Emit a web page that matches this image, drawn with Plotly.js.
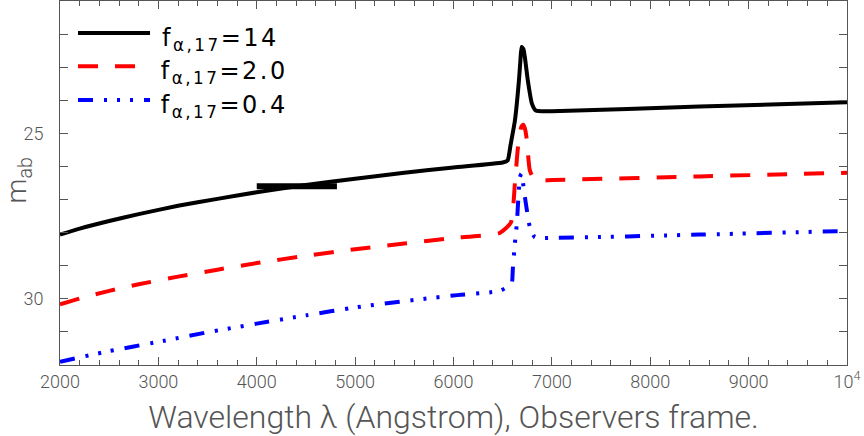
<!DOCTYPE html>
<html>
<head>
<meta charset="utf-8">
<script src="https://cdn.plot.ly/plotly-3.0.1.min.js"></script>
<style>
  body { margin: 0; background: #fff; }
  #viz { width: 864px; height: 436px; }
  #viz .legtext .annotation-text { letter-spacing: 2.5px; }
</style>
</head>
<body>
<div id="viz"></div>
<script>
// model spectra, magnitudes
var lamHigh = [2000, 2200, 2500, 2800, 3200, 3600, 4000, 4500, 5000, 5500, 6000, 6500, 6550, 6580, 6624, 6665, 6680, 6692, 6710, 6726, 6756, 6797, 6837, 7000, 8500, 10000];
var magHigh = [28.06, 27.88, 27.65, 27.44, 27.19, 26.98, 26.78, 26.56, 26.37, 26.19, 26.03, 25.88, 25.82, 25.35, 24.62, 23.41, 22.80, 22.39, 22.45, 22.71, 23.41, 24.10, 24.31, 24.33, 24.19, 24.06];

var lamMid = [2000, 2200, 2500, 2800, 3200, 3600, 4000, 4500, 5000, 5500, 6000, 6470, 6583, 6624, 6655, 6690, 6710, 6730, 6746, 6776, 6827, 7010, 8500, 10000];
var magMid = [30.17, 29.99, 29.76, 29.56, 29.33, 29.12, 28.92, 28.70, 28.50, 28.33, 28.16, 28.01, 27.70, 26.52, 25.43, 24.80, 24.74, 24.90, 25.22, 26.12, 26.42, 26.41, 26.30, 26.19];

var lamLow = [2000, 2500, 3000, 3500, 4000, 4500, 5000, 5500, 6000, 6472, 6573, 6593, 6604, 6624, 6644, 6675, 6690, 6726, 6776, 6827, 7000, 8500, 10000];
var magLow = [31.90, 31.58, 31.30, 31.01, 30.75, 30.50, 30.26, 30.07, 29.90, 29.76, 29.59, 29.53, 29.05, 28.32, 27.72, 26.33, 26.22, 26.93, 27.83, 28.14, 28.16, 28.06, 27.95];

// observed band (wavelength range, magnitude)
var lamObs = [4000, 4815];
var magObs = [26.6, 26.6];

var legendNames = ['f<sub>α,17</sub>=14', 'f<sub>α,17</sub>=2.0', 'f<sub>α,17</sub>=0.4'];
var lineColors = ['#000000', '#ff0000', '#0000ff'];
var lineDashes = ['solid', '20px,17px', '15px,11px,3px,10px,3px,10px,3px,11px'];

var xTickVals = [2000, 3000, 4000, 5000, 6000, 7000, 8000, 9000, 10000];
var xTickText = ['2000', '3000', '4000', '5000', '6000', '7000', '8000', '9000', '10<sup>4</sup>'];
var yTickVals = [25, 30];

var grey = '#555555';
var thin = 'Roboto, DejaVu Sans, sans-serif';
var legendFont = 'DejaVu Sans, sans-serif';

function curve(x, y, i) {
  return {
    x: x, y: y, type: 'scatter', mode: 'lines',
    line: { color: lineColors[i], width: 4, dash: lineDashes[i], shape: 'spline', smoothing: 0.5 },
    hoverinfo: 'skip'
  };
}

var data = [
  curve(lamHigh, magHigh, 0),
  curve(lamMid, magMid, 1),
  curve(lamLow, magLow, 2),
  { x: lamObs, y: magObs, type: 'scatter', mode: 'lines',
    line: { color: '#000', width: 6 }, hoverinfo: 'skip' }
];

// hand-drawn legend, the plotly one has fixed short samples
var rowY = [0.912, 0.821, 0.728];
var shapes = [];
var annotations = [];
for (var i = 0; i < 3; i++) {
  shapes.push({ type: 'line', xref: 'paper', yref: 'paper',
    x0: 0.0229, x1: 0.1144, y0: rowY[i], y1: rowY[i],
    line: { color: lineColors[i], width: 4, dash: lineDashes[i] } });
  annotations.push({ xref: 'paper', yref: 'paper', x: 0.1397, y: rowY[i] - 0.018,
    xanchor: 'left', yanchor: 'middle', showarrow: false,
    text: legendNames[i], font: { family: legendFont, size: 24, color: '#000' } });
}
// y title as annotation so it can sit at the left edge
annotations.push({ xref: 'paper', yref: 'paper', x: -0.053, y: 0.508,
  xanchor: 'center', yanchor: 'middle', showarrow: false, textangle: -90,
  text: 'm<sub>ab</sub>', font: { family: thin, size: 28, weight: 300, color: grey } });

var layout = {
  width: 864, height: 436,
  margin: { l: 60, r: 17, t: 1, b: 71 },
  paper_bgcolor: '#fff', plot_bgcolor: '#fff',
  showlegend: false,
  font: { family: thin, color: grey },
  xaxis: {
    range: [2000, 10000],
    tickvals: xTickVals, ticktext: xTickText,
    ticks: 'inside', ticklen: 8, tickcolor: grey, tickwidth: 1,
    minor: { dtick: 200, ticks: 'inside', ticklen: 5, tickcolor: grey },
    showline: true, linecolor: grey, linewidth: 1, mirror: 'ticks',
    showgrid: false, zeroline: false,
    tickfont: { family: thin, size: 18, weight: 300, color: grey },
    title: { text: 'Wavelength λ (Angstrom), Observers frame.', standoff: 16,
      font: { family: thin, size: 32, weight: 300, color: grey } }
  },
  yaxis: {
    range: [32, 21],
    tickvals: yTickVals,
    ticks: 'inside', ticklen: 8, tickcolor: grey, tickwidth: 1,
    minor: { dtick: 1, ticks: 'inside', ticklen: 8, tickcolor: grey },
    showline: true, linecolor: grey, linewidth: 1, mirror: 'ticks',
    showgrid: false, zeroline: false,
    ticklabelstandoff: 12,
    tickfont: { family: thin, size: 18, weight: 300, color: grey }
  },
  shapes: shapes,
  annotations: annotations
};

Plotly.newPlot('viz', data, layout, { staticPlot: true }).then(function (gd) {
  // mark the legend annotations for the letter-spacing rule
  var items = gd.querySelectorAll('.annotation');
  for (var k = 0; k < 3 && k < items.length; k++) items[k].classList.add('legtext');
});
</script>
</body>
</html>
